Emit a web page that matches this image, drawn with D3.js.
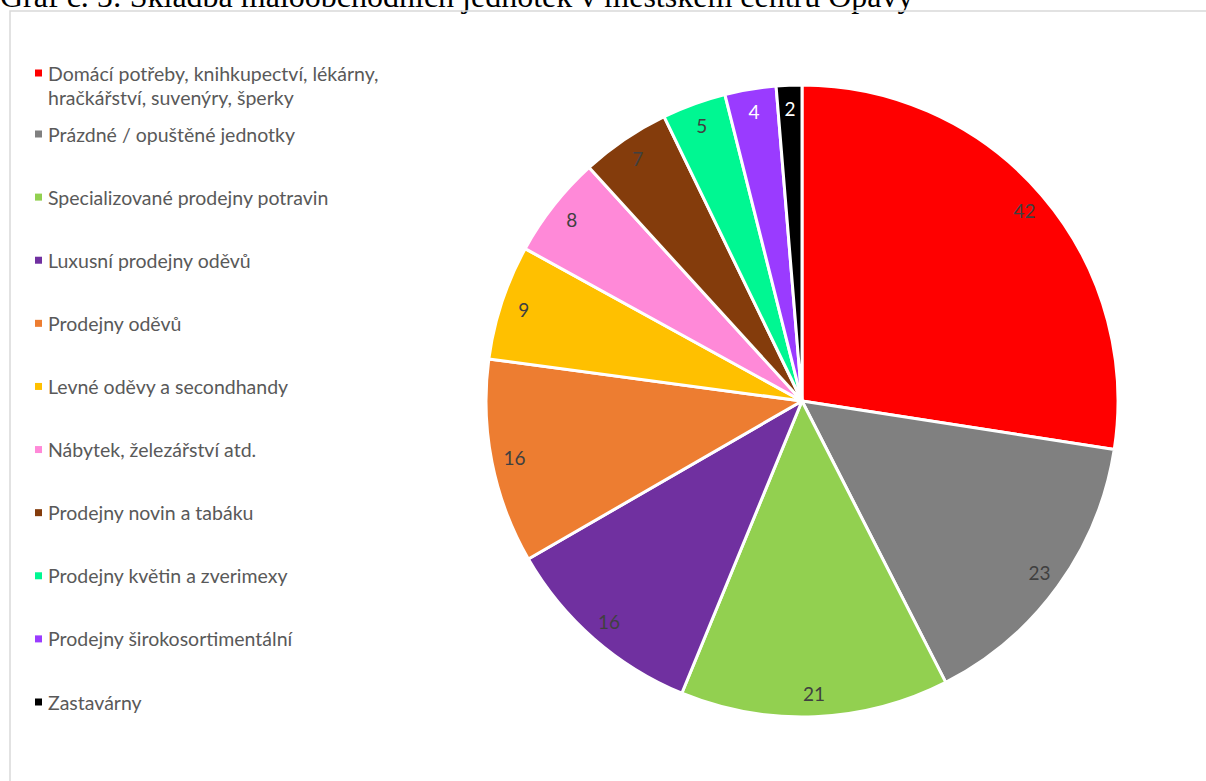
<!DOCTYPE html>
<html>
<head>
<meta charset="utf-8">
<script src="https://cdn.jsdelivr.net/npm/d3@7"></script>
<style>
  html, body { margin: 0; padding: 0; background: #fff; }
  svg { display: block; }
</style>
</head>
<body>
<svg id="chart" width="1206" height="781"></svg>
<script>
// Složení maloobchodních jednotek – kategorie, počty a barvy
const categories = [
  "Domácí potřeby, knihkupectví, lékárny, hračkářství, suvenýry, šperky",
  "Prázdné / opuštěné jednotky",
  "Specializované prodejny potravin",
  "Luxusní prodejny oděvů",
  "Prodejny oděvů",
  "Levné oděvy a secondhandy",
  "Nábytek, železářství atd.",
  "Prodejny novin a tabáku",
  "Prodejny květin a zverimexy",
  "Prodejny širokosortimentální",
  "Zastavárny"
];
const values = [42, 23, 21, 16, 16, 9, 8, 7, 5, 4, 2];
const colors = ["#FF0000", "#808080", "#92D050", "#7030A0", "#ED7D31", "#FFC000",
                "#FF89D8", "#843C0C", "#00F792", "#9A3BFF", "#000000"];
const labelColors = ["#404040", "#404040", "#404040", "#404040", "#404040", "#404040",
                     "#404040", "#404040", "#404040", "#FFFFFF", "#FFFFFF"];
// Legenda: první položka je zalomena do dvou řádků
const legendLines = [
  ["Domácí potřeby, knihkupectví, lékárny,", "hračkářství, suvenýry, šperky"],
  ["Prázdné / opuštěné jednotky"],
  ["Specializované prodejny potravin"],
  ["Luxusní prodejny oděvů"],
  ["Prodejny oděvů"],
  ["Levné oděvy a secondhandy"],
  ["Nábytek, železářství atd."],
  ["Prodejny novin a tabáku"],
  ["Prodejny květin a zverimexy"],
  ["Prodejny širokosortimentální"],
  ["Zastavárny"]
];
const title = "Graf č. 5: Skladba maloobchodních jednotek v městském centru Opavy";

const svg = d3.select("#chart");
const font = "Lato, 'Open Sans', sans-serif";

// Nadpis (nad rámečkem grafu)
svg.append("text")
  .attr("x", 0).attr("y", 7)
  .attr("font-family", "'Liberation Serif', 'Times New Roman', serif")
  .attr("font-size", 32)
  .attr("fill", "#000")
  .text(title);

// Rámeček oblasti grafu
svg.append("path")
  .attr("d", "M10,781 L10,11 L1206,11")
  .attr("fill", "none")
  .attr("stroke", "#d9d9d9")
  .attr("stroke-width", 1.5);

// Koláč
const cx = 802, cy = 401, R = 316;
const pie = d3.pie().sort(null).value(d => d)(values);
const arc = d3.arc().innerRadius(0).outerRadius(R);
const labelArc = d3.arc().innerRadius(293).outerRadius(293);

const g = svg.append("g").attr("transform", `translate(${cx},${cy})`);
g.selectAll("path.slice")
  .data(pie)
  .join("path")
  .attr("class", "slice")
  .attr("d", arc)
  .attr("fill", (d, i) => colors[i])
  .attr("stroke", "#fff")
  .attr("stroke-width", 3)
  .attr("stroke-linejoin", "round");

g.selectAll("text.val")
  .data(pie)
  .join("text")
  .attr("class", "val")
  .attr("transform", d => `translate(${labelArc.centroid(d)})`)
  .attr("text-anchor", "middle")
  .attr("dominant-baseline", "central")
  .attr("font-family", font)
  .attr("font-size", 19)
  .attr("fill", (d, i) => labelColors[i])
  .text(d => d.data);

// Legenda
const legend = svg.append("g");
const firstY = 134, step = (702 - 134) / 9;
legendLines.forEach((lines, i) => {
  const y = i === 0 ? 73 : firstY + (i - 1) * step;
  legend.append("rect")
    .attr("x", 35).attr("y", y - 3.5)
    .attr("width", 7).attr("height", 7)
    .attr("fill", colors[i]);
  lines.forEach((line, j) => {
    legend.append("text")
      .attr("x", 48).attr("y", y + j * 24)
      .attr("dominant-baseline", "central")
      .attr("font-family", font)
      .attr("font-size", 19.5)
      .attr("fill", "#595959")
      .text(line);
  });
});
</script>
</body>
</html>
